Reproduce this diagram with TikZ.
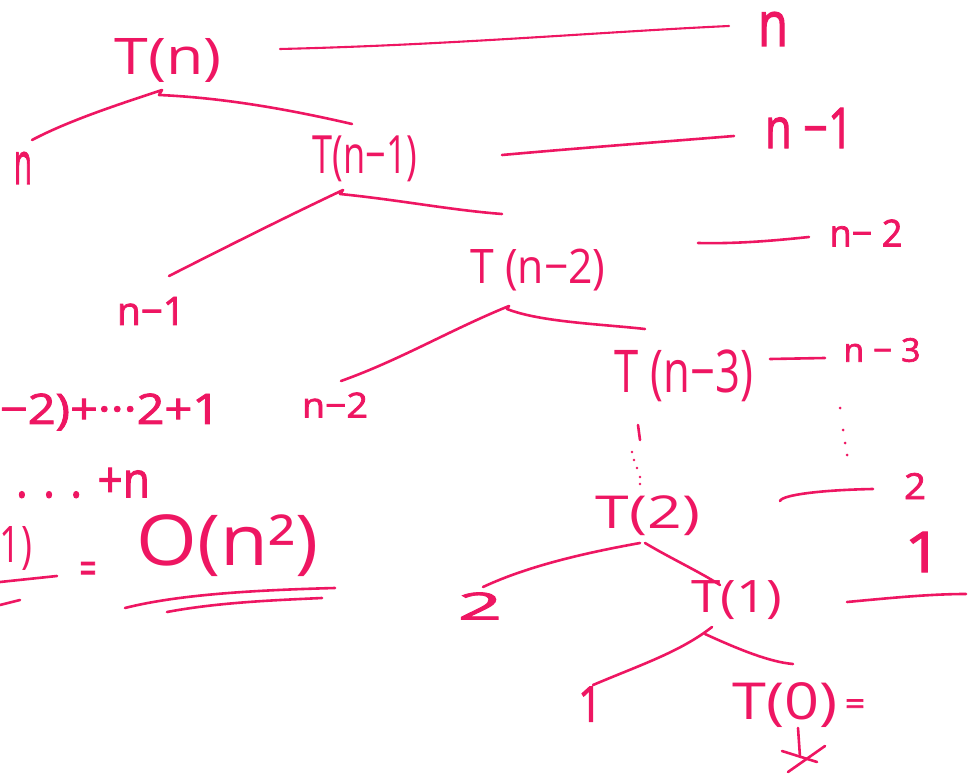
\documentclass[tikz,border=0pt]{standalone}
\usepackage{fontspec}
\setmainfont{Open Sans}
\usepackage{graphicx}
\definecolor{ink}{RGB}{238,22,98}
\newcommand\hwtext[3]{\resizebox{#1pt}{#2pt}{\raisebox{\depth}{#3}}}
\newcommand\heavy[1]{{\addfontfeature{FakeBold=2}#1}}
\tikzset{
  lbl/.style={text=ink, inner sep=0pt, outer sep=0pt},
  stroke/.style={draw=ink, line width=2.6pt, line cap=round, line join=round},
  fine stroke/.style={stroke, line width=2.1pt},
  dotmark/.style={fill=ink, draw=none},
}
\begin{document}
\begin{tikzpicture}[x=1pt,y=-1pt]
\useasboundingbox (0,0) rectangle (974,775);
\clip (0,0) rectangle (974,775);

% ---- tree labels
\node[lbl] (Tn)  at (168,60)  {\hwtext{107}{44}{T(n)}};
\node[lbl] (n0)  at (23,168)  {\hwtext{18}{32}{\heavy{n}}};
\node[lbl] (Tn1) at (365,159) {\hwtext{105}{46}{T(n−1)}};
\node[lbl] (n1)  at (151,311) {\hwtext{68}{28}{\heavy{n−1}}};
\node[lbl] (Tn2) at (538,270) {\hwtext{135}{42}{T (n−2)}};
\node[lbl] (n2)  at (335,405) {\hwtext{66}{25}{\heavy{n−2}}};
\node[lbl] (Tn3) at (684,376) {\hwtext{138}{52}{T (n−3)}};
\node[lbl] (T2)  at (648,516) {\hwtext{104}{40}{T(2)}};
\node[lbl] (c2)  at (480,606) {\hwtext{44}{27}{\heavy{2}}};
\node[lbl] (T1)  at (737,600) {\hwtext{91}{39}{T(1)}};
\node[lbl] (c1)  at (590,704) {\hwtext{24}{35}{\heavy{1}}};
\node[lbl] (T0)  at (785,705) {\hwtext{105}{45}{T(0)}};
\node[lbl] (eq0) at (855,707) {\hwtext{20}{15}{\heavy{=}}};

% ---- level costs
\node[lbl] (Ln0) at (773,29)  {\hwtext{30}{34}{\heavy{n}}};
\node[lbl] (Ln1) at (809,128) {\hwtext{88}{40}{\heavy{n −1}}};
\node[lbl] (Ln2) at (866,233) {\hwtext{73}{27}{\heavy{n− 2}}};
\node[lbl] (Ln3) at (882,350) {\hwtext{77}{24}{\heavy{n − 3}}};
\node[lbl] (Lv2) at (915,486) {\hwtext{22}{26}{\heavy{2}}};
\node[lbl] (Lv1) at (923,552) {\hwtext{37}{40}{\heavy{1}}};

% ---- sum on the left
\node[lbl, anchor=west] (sumA) at (0,412) {\hwtext{220}{37}{\heavy{−2)+···2+1}}};
\node[lbl, anchor=west] (sumB) at (16,483) {\hwtext{134}{30}{\heavy{. . . +n}}};
\node[lbl, anchor=west] (sumC) at (0,548) {\hwtext{32}{44}{1)}};
\node[lbl] (eqC) at (88,573) {\hwtext{17}{22}{\heavy{=}}};
\node[lbl] (On2) at (228,546) {\hwtext{182}{62}{O(n²)}};

% ---- coordinates
\coordinate (a1) at (280,49);  \coordinate (a2) at (729,26);
\coordinate (b1) at (502,155); \coordinate (b2) at (734,136);
\coordinate (c1a) at (698,243); \coordinate (c2a) at (809,237);
\coordinate (d1) at (770,359); \coordinate (d2) at (825,358);
\coordinate (f1) at (780,501); \coordinate (f2) at (873,489);
\coordinate (g1) at (847,602); \coordinate (g2) at (966,594);

\coordinate (p0) at (162,90);  \coordinate (q0) at (159,95);
\coordinate (l0) at (32,140);  \coordinate (r0) at (352,124);
\coordinate (p1) at (343,190); \coordinate (q1) at (340,194);
\coordinate (l1) at (169,276); \coordinate (r1) at (502,214);
\coordinate (p2) at (509,306); \coordinate (q2) at (507,309);
\coordinate (l2) at (341,381); \coordinate (r2) at (645,329);
\coordinate (p3) at (640,543); \coordinate (q3) at (645,543);
\coordinate (l3) at (483,587); \coordinate (r3) at (720,585);
\coordinate (p4) at (712,627); \coordinate (q4) at (705,634);
\coordinate (l4) at (593,685); \coordinate (r4) at (793,664);

% ---- level lines
\draw[fine stroke] (a1) .. controls (450,45) and (600,32) .. (a2);
\draw[stroke] (b1) .. controls (580,148) and (660,142) .. (b2);
\draw[stroke] (c1a) .. controls (740,244) and (780,240) .. (c2a);
\draw[stroke] (d1) -- (d2);
\draw[stroke] (f1) .. controls (782,495) and (820,490) .. (f2);
\draw[stroke] (g1) .. controls (890,598) and (930,594) .. (g2);

% ---- tree branches
\draw[stroke] (l0) .. controls (70,120) and (120,104) .. (p0) -- (q0)
              .. controls (230,98) and (300,112) .. (r0);
\draw[stroke] (l1) .. controls (230,245) and (290,215) .. (p1) -- (q1)
              .. controls (400,200) and (450,210) .. (r1);
\draw[stroke] (l2) .. controls (400,360) and (450,330) .. (p2) -- (q2)
              .. controls (540,322) and (600,324) .. (r2);
\draw[stroke] (l3) .. controls (530,565) and (590,552) .. (p3);
\draw[stroke] (q3) .. controls (670,558) and (700,572) .. (r3);
\draw[stroke] (l4) .. controls (640,665) and (680,652) .. (p4);
\draw[stroke] (q4) .. controls (740,650) and (770,662) .. (r4);

% ---- vertical dots
\draw[stroke] (638,425) -- (640,440);
\foreach \x/\y in {632/452,634/460,637/468,640/477,640/484}
  \fill[dotmark] (\x,\y) circle (1.4);
\foreach \x/\y in {840/408,843/430,845/443,847/455}
  \fill[dotmark] (\x,\y) circle (1.5);

% ---- T(0) crossed out
\draw[stroke] (798,728) -- (800,757);
\draw[stroke] (782,751) -- (817,762);
\draw[stroke] (788,772) -- (825,746);

% ---- underlines
\draw[stroke] (0,582) -- (57,576);
\draw[stroke] (0,605) -- (20,600);
\draw[stroke] (125,608) .. controls (180,594) and (260,590) .. (335,588);
\draw[stroke] (167,612) .. controls (220,602) and (280,600) .. (322,598);
\end{tikzpicture}
\end{document}
